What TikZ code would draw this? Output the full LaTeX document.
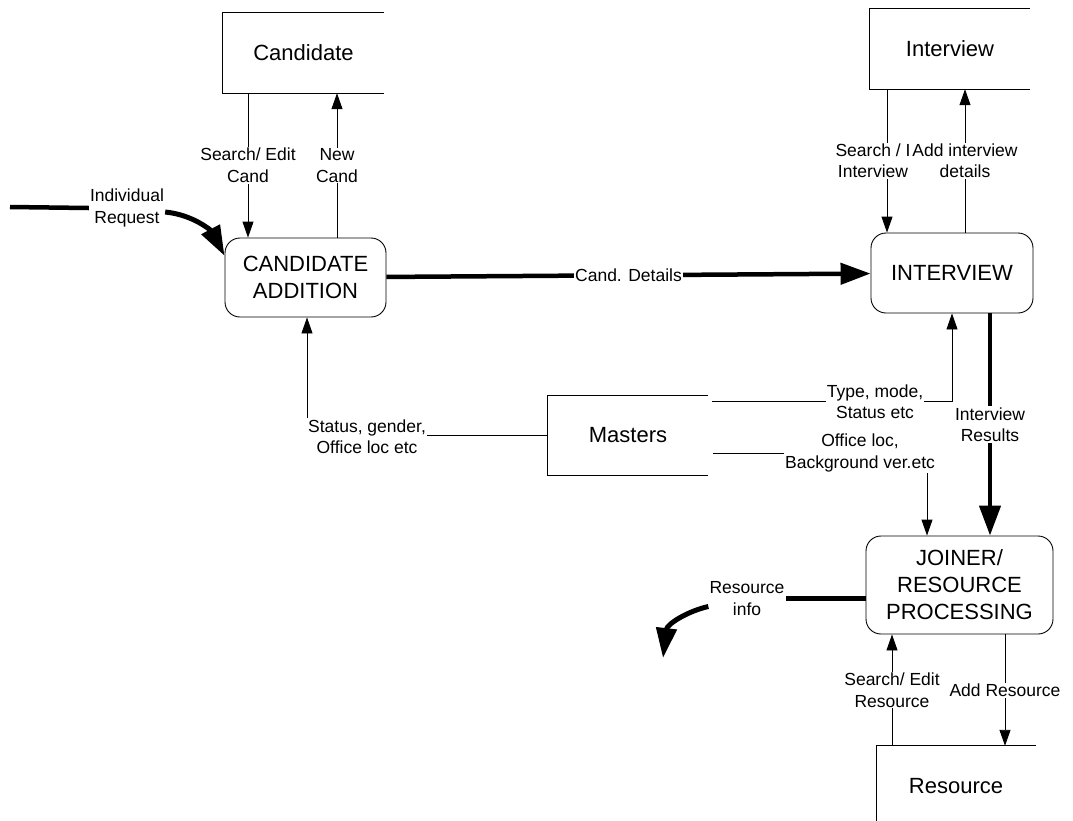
\documentclass[tikz,border=0pt]{standalone}
\usepackage{fontspec}
\setmainfont{Liberation Sans}
\usetikzlibrary{arrows.meta}
\begin{document}
\begin{tikzpicture}[x=1pt,y=-1pt,
  thinline/.style={line width=0.9pt},
  arr/.style={thinline,-{Triangle[length=16pt,width=11pt]}},
  thickline/.style={line width=4.5pt},
  thickarr/.style={thickline,-{Triangle[length=30pt,width=21pt]}},
  curvearr/.style={line width=5pt,-{Triangle[length=30pt,width=20pt]}},
  lbl/.style={font=\fontsize{17.5}{21.5}\selectfont,align=center,inner sep=1pt},
  wlbl/.style={lbl,fill=white},
  store/.style={font=\fontsize{22}{27}\selectfont,inner sep=0pt},
  proc/.style={draw,thinline,rounded corners=15pt,align=center,font=\fontsize{22}{27}\selectfont}
]
\useasboundingbox (0,0) rectangle (1073,820);

% data stores
\node[store,minimum width=161pt,minimum height=80pt] (cs) at (303.5,53) {Candidate};
\node[store,minimum width=160pt,minimum height=80pt] (is) at (950,49) {Interview};
\node[store,minimum width=160pt,minimum height=79pt] (ms) at (628,435.5) {Masters};
\node[store,minimum width=159pt,minimum height=80pt] (rs) at (956,786) {Resource};
\draw[thinline] (cs.north east) -- (cs.north west) -- (cs.south west) -- (cs.south east);
\draw[thinline] (is.north east) -- (is.north west) -- (is.south west) -- (is.south east);
\draw[thinline] (ms.north east) -- (ms.north west) -- (ms.south west) -- (ms.south east);
\draw[thinline] (rs.north east) -- (rs.north west) -- (rs.south west);

% processes
\node[proc,minimum width=161pt,minimum height=79pt] (ca) at (305.5,277.5) {CANDIDATE\\ADDITION};
\node[proc,minimum width=162pt,minimum height=80pt] (iv) at (952,273) {INTERVIEW};
\node[proc,minimum width=187pt,minimum height=98pt] (jo) at (959.5,585) {JOINER/\\RESOURCE\\PROCESSING};

% x positions
\coordinate (x248) at (248,0);
\coordinate (x337) at (337,0);
\coordinate (x887) at (887,0);
\coordinate (x965) at (965,0);
\coordinate (x952) at (952,0);
\coordinate (x990) at (990,0);
\coordinate (x927) at (927,0);
\coordinate (x307) at (307,0);
\coordinate (x892) at (892,0);
\coordinate (x1005) at (1005,0);

% candidate store flows
\draw[arr] (cs.south -| x248) -- (ca.north -| x248) node[wlbl,midway]{Search/ Edit\\Cand};
\draw[arr] (ca.north -| x337) -- (cs.south -| x337) node[wlbl,midway]{New\\Cand};

% interview store flows
\draw[arr] (is.south -| x887) -- (iv.north -| x887) node[wlbl,midway,xshift=-14pt]{Search / I\\Interview};
\draw[arr] (iv.north -| x965) -- (is.south -| x965) node[wlbl,midway]{Add interview\\details};

% main flows
\draw[thickarr] (ca) -- (iv) node[wlbl,midway]{Cand. Details};
\draw[thickarr] (iv.south -| x990) -- (jo.north -| x990) node[wlbl,midway]{Interview\\Results};

% masters flows
\node[lbl] (tm) at (875,401.5) {Type, mode,\\Status etc};
\draw[thinline] ([xshift=4pt]ms.north east |- tm.west) -- (tm.west);
\draw[arr] (tm.east) -| (iv.south -| x952);

\node[lbl] (ob) at (860,453) {Office loc,\\Background ver.etc};
\draw[thinline] ([xshift=5pt]ms.east |- ob.west) -- (ob.west);
\draw[arr] (ob.south -| x927) -- (jo.north -| x927);

\node[lbl] (sg) at (367,436.5) {Status, gender,\\Office loc etc};
\draw[thinline] (ms.west) -- (ms.west -| sg.east);
\draw[arr] (sg.north -| x307) -- (ca.south -| x307);

% individual request
\coordinate (irs) at (10,207);
\node[lbl] (ir) at (127,208) {Individual\\Request};
\draw[thickline] (irs) -- (ir.west);
\draw[curvearr] ([yshift=-4pt]ir.east) .. controls (195,215) and (212,232) .. (ca.165);

% resource info
\node[lbl] (ri) at (747,598.5) {Resource\\info};
\coordinate (rie) at (663,658);
\draw[thickline] (jo.west |- ri.east) -- (ri.east);
\draw[curvearr] ([yshift=-8pt]ri.west) .. controls (688,611) and (667,624) .. (rie);

% resource store flows
\draw[arr] (rs.north -| x892) -- (jo.south -| x892) node[wlbl,midway]{Search/ Edit\\Resource};
\draw[arr] (jo.south -| x1005) -- (rs.north -| x1005) node[wlbl,midway]{Add Resource};
\end{tikzpicture}
\end{document}
